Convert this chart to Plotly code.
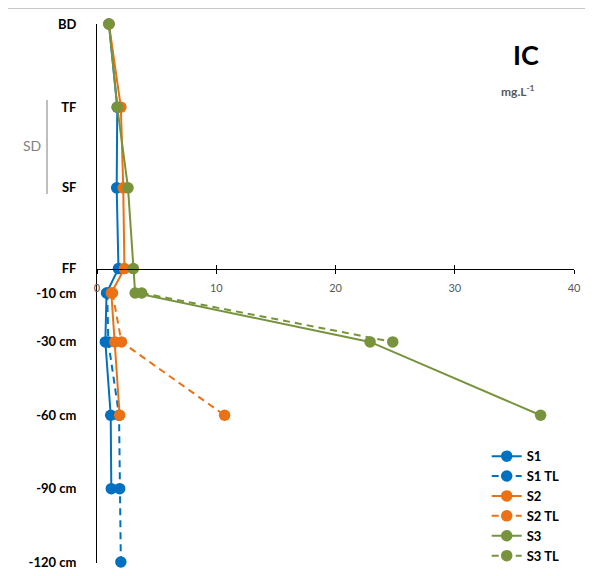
import plotly.graph_objects as go

# ---- data ----
levels = ["BD", "TF", "SF", "FF", "-10 cm", "-30 cm", "-60 cm", "-90 cm", "-120 cm"]
level_pos = [100, 66, 33, 0, -10, -30, -60, -90, -120]

S1 = [1.0, 1.7, 1.65, 1.8, 0.8, 0.7, 1.15, 1.2, None]
S1_TL = [None, None, None, None, 0.85, 0.95, 1.85, 1.9, 2.0]
S2 = [1.0, 2.0, 2.2, 2.3, 1.2, 1.5, 1.9, None, None]
S2_TL = [None, None, None, None, 1.3, 2.05, 10.7, None, None]
S3 = [1.0, 1.7, 2.6, 3.05, 3.2, 22.9, 37.2, None, None]
S3_TL = [None, None, None, None, 3.75, 24.8, None, None, None]

x_ticks = [0, 10, 20, 30, 40]

BLUE = "#0070C0"
ORANGE = "#EC7014"
GREEN = "#77933C"
FONT = "Lato"

series = [
    ("S1", S1, BLUE, "solid"),
    ("S1 TL", S1_TL, BLUE, "7px,5px"),
    ("S2", S2, ORANGE, "solid"),
    ("S2 TL", S2_TL, ORANGE, "7px,5px"),
    ("S3", S3, GREEN, "solid"),
    ("S3 TL", S3_TL, GREEN, "7px,5px"),
]

fig = go.Figure()
for name, vals, col, dash in series:
    xs = [v for v in vals if v is not None]
    ys = [p for v, p in zip(vals, level_pos) if v is not None]
    fig.add_trace(go.Scatter(
        x=xs, y=ys, name=name, mode="lines+markers",
        line=dict(color=col, width=2, dash=dash),
        marker=dict(color=col, size=11.5),
        cliponaxis=False,
    ))

# invisible trace to carry the upward half of the tick marks
fig.add_trace(go.Scatter(x=[0], y=[0], xaxis="x2", showlegend=False,
                         mode="markers", marker=dict(opacity=0), hoverinfo="skip"))

y_range = [-120.4, 100]
x_pos = (0 - y_range[0]) / (y_range[1] - y_range[0])

fig.update_layout(
    width=593, height=620,
    margin=dict(l=89, r=27, t=16, b=65, autoexpand=False),
    paper_bgcolor="white", plot_bgcolor="white",
    font=dict(family=FONT, color="black"),
    showlegend=True,
    legend=dict(
        x=0.817, y=0.226, xanchor="left", yanchor="top",
        font=dict(family=FONT, size=13, color="black", weight="bold"),
        bgcolor="rgba(0,0,0,0)", tracegroupgap=0,
    ),
    xaxis=dict(
        range=[0, 40], tickvals=x_ticks, showgrid=False, zeroline=False,
        showline=True, linecolor="black", linewidth=1,
        ticks="outside", ticklen=4, tickcolor="black",
        tickfont=dict(family=FONT, size=11, color="#595959"),
        anchor="free", position=x_pos, ticklabelstandoff=5,
    ),
    xaxis2=dict(
        range=[0, 40], tickvals=x_ticks, overlaying="x", anchor="free",
        position=x_pos, side="bottom", showgrid=False, zeroline=False,
        showline=False, ticks="inside", ticklen=4, tickcolor="black",
        showticklabels=False,
    ),
    yaxis=dict(
        range=y_range, tickvals=level_pos, ticktext=levels,
        showgrid=False, zeroline=False, showline=True, linecolor="black",
        linewidth=1, ticks="",
        tickfont=dict(family=FONT, size=13, color="black", weight="bold"),
        ticklabelstandoff=17,
    ),
)

fig.add_annotation(text="<b>IC</b>", x=0.899, y=0.943, xref="paper", yref="paper",
                   xanchor="center", yanchor="middle", showarrow=False,
                   font=dict(family=FONT, size=27, color="black"))
fig.add_annotation(text="<b>mg.L<sup>-1</sup></b>", x=0.882, y=0.876, xref="paper",
                   yref="paper", xanchor="center", yanchor="middle", showarrow=False,
                   font=dict(family=FONT, size=12, color="#595959"))
fig.add_annotation(text="SD", x=-0.136, y=0.7755, xref="paper", yref="paper",
                   xanchor="center", yanchor="middle",
                   showarrow=False, font=dict(family=FONT, size=14, color="#7F7F7F"))
fig.add_shape(type="line", xref="paper", yref="paper",
              x0=-0.1048, x1=-0.1048, y0=0.6846, y1=0.859,
              line=dict(color="#7F7F7F", width=1))
# chart frame
fig.add_shape(type="rect", xref="paper", yref="paper",
              x0=-0.193, x1=1.2, y0=-0.2, y1=1.0297,
              line=dict(color="#8C8C8C", width=1), layer="below")

fig.write_html("out.html")
